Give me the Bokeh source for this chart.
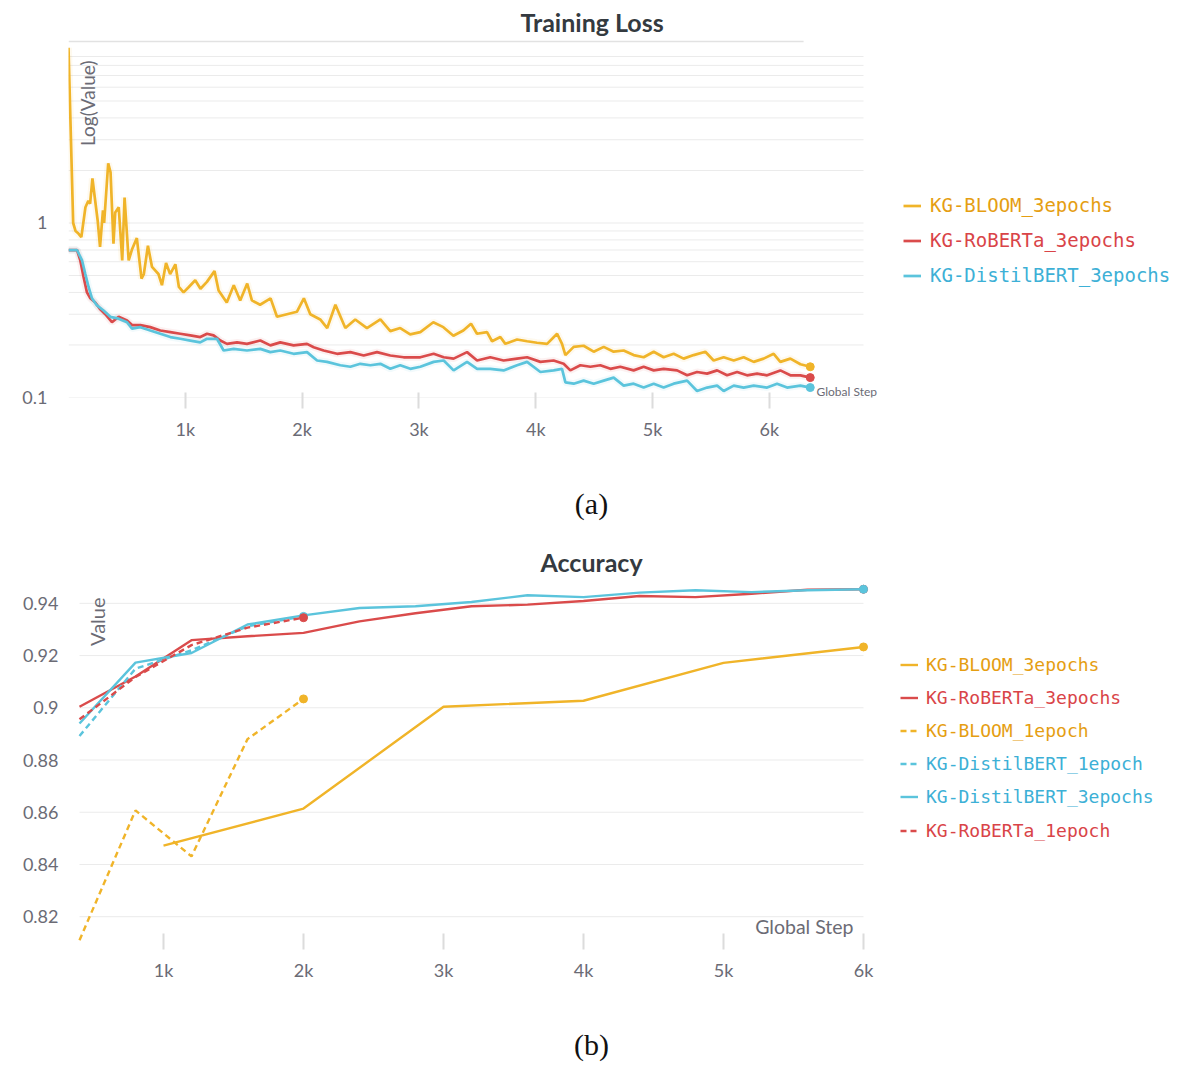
import math
from bokeh.plotting import figure
from bokeh.models import FixedTicker, Legend, LegendItem, Label, Range1d
from bokeh.layouts import column
from bokeh.embed import file_html
from bokeh.resources import INLINE

# ---------------- data: training loss ----------------
bloom_loss_steps = [0, 40, 60, 85, 110, 145, 170, 185, 205, 225, 250, 270, 295, 305, 340, 360, 385, 400,
                    430, 460, 480, 515, 545, 585, 625, 645, 680, 715, 770, 800, 835, 870, 915, 945, 985,
                    1030, 1085, 1130, 1185, 1250, 1285, 1355, 1415, 1470, 1530, 1570, 1640, 1730, 1785,
                    1870, 1955, 2015, 2070, 2155, 2215, 2285, 2370, 2455, 2555, 2670, 2755, 2840, 2925,
                    3012, 3123, 3209, 3295, 3380, 3446, 3497, 3583, 3626, 3697, 3740, 3840, 3926, 4011,
                    4097, 4183, 4225, 4254, 4325, 4410, 4496, 4582, 4667, 4753, 4838, 4924, 5010, 5095,
                    5181, 5266, 5352, 5452, 5523, 5609, 5695, 5780, 5866, 5951, 6037, 6094, 6180, 6266, 6350]
bloom_loss = [10.1, 1.0, 0.9, 0.87, 0.83, 1.23, 1.34, 1.29, 1.8, 1.4, 1.03, 0.73, 1.18, 1.0, 2.2, 1.95,
              0.76, 1.15, 1.23, 0.61, 1.4, 0.61, 0.71, 0.82, 0.48, 0.51, 0.74, 0.56, 0.51, 0.44, 0.59,
              0.51, 0.58, 0.43, 0.40, 0.43, 0.47, 0.42, 0.46, 0.53, 0.41, 0.35, 0.44, 0.36, 0.45, 0.36,
              0.34, 0.37, 0.29, 0.30, 0.31, 0.37, 0.30, 0.28, 0.25, 0.34, 0.25, 0.28, 0.25, 0.28, 0.24,
              0.25, 0.23, 0.237, 0.27, 0.253, 0.226, 0.242, 0.265, 0.232, 0.237, 0.21, 0.222, 0.203,
              0.215, 0.21, 0.206, 0.203, 0.232, 0.203, 0.175, 0.195, 0.198, 0.183, 0.195, 0.183, 0.186,
              0.175, 0.17, 0.183, 0.17, 0.178, 0.167, 0.175, 0.183, 0.163, 0.17, 0.163, 0.17, 0.16,
              0.167, 0.178, 0.16, 0.167, 0.155, 0.15]

roberta_loss_steps = [0, 73, 101, 129, 158, 187, 229, 272, 315, 372, 429, 501, 544, 615, 700, 786, 872,
                      957, 1043, 1128, 1186, 1242, 1300, 1357, 1443, 1528, 1642, 1728, 1813, 1927, 2042,
                      2099, 2184, 2299, 2413, 2527, 2641, 2755, 2869, 3012, 3126, 3212, 3297, 3412, 3498,
                      3611, 3725, 3840, 3926, 4040, 4153, 4239, 4296, 4382, 4468, 4553, 4639, 4724, 4838,
                      4924, 5010, 5095, 5210, 5296, 5381, 5467, 5553, 5638, 5724, 5809, 5895, 5981, 6094,
                      6180, 6266, 6350]
roberta_loss = [0.70, 0.70, 0.61, 0.49, 0.40, 0.37, 0.35, 0.32, 0.30, 0.27, 0.29, 0.276, 0.26, 0.26,
                0.253, 0.242, 0.237, 0.232, 0.227, 0.222, 0.232, 0.227, 0.212, 0.203, 0.207, 0.203,
                0.212, 0.199, 0.207, 0.199, 0.203, 0.194, 0.186, 0.178, 0.182, 0.174, 0.182, 0.174,
                0.17, 0.17, 0.178, 0.17, 0.167, 0.182, 0.163, 0.17, 0.163, 0.167, 0.17, 0.16, 0.163,
                0.156, 0.143, 0.153, 0.15, 0.153, 0.146, 0.15, 0.143, 0.15, 0.143, 0.146, 0.143, 0.134,
                0.14, 0.137, 0.143, 0.134, 0.14, 0.134, 0.137, 0.134, 0.143, 0.134, 0.134, 0.13]

distil_loss_steps = [0, 73, 116, 144, 172, 201, 244, 300, 358, 429, 501, 544, 615, 700, 786, 872, 957,
                     1043, 1128, 1186, 1271, 1328, 1414, 1528, 1642, 1728, 1813, 1927, 2042, 2128, 2213,
                     2327, 2413, 2498, 2584, 2670, 2755, 2840, 2926, 3012, 3126, 3212, 3297, 3412, 3498,
                     3611, 3725, 3840, 3926, 4040, 4153, 4225, 4254, 4325, 4410, 4496, 4582, 4667, 4753,
                     4838, 4924, 5010, 5095, 5181, 5296, 5381, 5467, 5553, 5609, 5695, 5780, 5866, 5981,
                     6066, 6152, 6266, 6350]
distil_loss = [0.70, 0.70, 0.61, 0.51, 0.43, 0.37, 0.337, 0.315, 0.29, 0.283, 0.27, 0.248, 0.253,
               0.242, 0.232, 0.222, 0.217, 0.212, 0.207, 0.217, 0.217, 0.186, 0.19, 0.186, 0.19, 0.182,
               0.186, 0.178, 0.182, 0.163, 0.16, 0.153, 0.15, 0.156, 0.153, 0.156, 0.146, 0.153, 0.146,
               0.15, 0.16, 0.163, 0.143, 0.16, 0.146, 0.146, 0.143, 0.153, 0.16, 0.14, 0.143, 0.146,
               0.122, 0.12, 0.125, 0.12, 0.125, 0.13, 0.117, 0.12, 0.114, 0.12, 0.114, 0.12, 0.125,
               0.109, 0.114, 0.117, 0.109, 0.117, 0.114, 0.117, 0.114, 0.12, 0.114, 0.117, 0.114]

# ---------------- data: accuracy ----------------
acc_steps = [400, 800, 1200, 1600, 2000, 2400, 2800, 3200, 3600, 4000, 4400, 4800, 5200, 5600, 6000]
acc_steps_1ep = [400, 800, 1200, 1600, 2000]
bloom3_steps = [1000, 2000, 3000, 4000, 5000, 6000]
bloom3_acc = [0.8472, 0.8614, 0.9004, 0.9027, 0.9172, 0.9233]
roberta3_acc = [0.9004, 0.9120, 0.9259, 0.9274, 0.9287, 0.9331, 0.9362, 0.9389, 0.9395, 0.9409,
                0.9428, 0.9424, 0.9437, 0.9452, 0.9454]
bloom1_acc = [0.811, 0.8607, 0.8431, 0.888, 0.9034]
distil1_acc = [0.8892, 0.915, 0.922, 0.9312, 0.935]
distil3_acc = [0.894, 0.9173, 0.921, 0.9319, 0.9354, 0.9382, 0.9389, 0.9405, 0.9431, 0.9424, 0.9441,
               0.945, 0.9443, 0.945, 0.9454]
roberta1_acc = [0.8956, 0.9118, 0.924, 0.9307, 0.9345]

x_ticks = [1000, 2000, 3000, 4000, 5000, 6000]
x_tick_labels = ["1k", "2k", "3k", "4k", "5k", "6k"]
loss_major = [0.1, 1]
loss_major_labels = ["0.1", "1"]
loss_minor = [0.2, 0.3, 0.4, 0.5, 0.6, 0.7, 0.8, 0.9, 2, 3, 4, 5, 6, 7, 8, 9]
acc_ticks = [0.82, 0.84, 0.86, 0.88, 0.90, 0.92, 0.94]
acc_tick_labels = ["0.82", "0.84", "0.86", "0.88", "0.9", "0.92", "0.94"]

# axis extents (steps) of the two panels
loss_x_start, loss_x_end = 0, 6806
acc_x_start, acc_x_end = 400, 6000

FONT = "Lato"
MONO = "DejaVu Sans Mono"
SERIF = "Liberation Serif"
AX = "#6b6b75"
GRID = "#ebebeb"
TICK = "#dcdcdc"
YEL, RED, BLU = "#F0B429", "#DA4B4B", "#5BC4DC"
YEL_T, RED_T, BLU_T = "#E59E12", "#D94448", "#3DB0D6"

FRAME_W = 1105
BORDER_L = 68
PAGE_CX = 591


def style_axes(p, xt, yt, y_overrides, standoff):
    p.xaxis.ticker = xt
    p.xgrid.grid_line_color = None
    p.ygrid.grid_line_color = None
    p.xaxis.major_label_overrides = dict(zip(x_ticks, x_tick_labels))
    p.xaxis.axis_line_color = None
    p.xaxis.major_tick_line_color = TICK
    p.xaxis.major_tick_line_width = 2
    p.xaxis.minor_tick_line_color = None
    p.xaxis.major_label_text_font = FONT
    p.xaxis.major_label_text_font_size = "18px"
    p.xaxis.major_label_text_color = AX
    p.xaxis.major_label_standoff = 9

    p.yaxis.ticker = yt
    p.yaxis.major_label_overrides = y_overrides
    p.yaxis.axis_line_color = None
    p.yaxis.major_tick_line_color = None
    p.yaxis.minor_tick_line_color = None
    p.yaxis.major_label_text_font = FONT
    p.yaxis.major_label_text_font_size = "18px"
    p.yaxis.major_label_text_color = AX
    p.yaxis.major_label_standoff = standoff
    p.outline_line_color = None


def style_title(p, offset, standoff):
    p.title.align = "left"
    p.title.offset = offset
    p.title.text_font = FONT
    p.title.text_font_size = "25px"
    p.title.text_color = "#343a40"
    p.title.standoff = standoff


def add_legend(p, label, r, color, x, y, standoff, size):
    leg = Legend(items=[LegendItem(label=label, renderers=[r])], location=(x, y),
                 label_text_font=MONO, label_text_font_size=size,
                 label_text_color=color, label_standoff=standoff, glyph_width=18, glyph_height=25,
                 label_height=25, padding=0, margin=0, spacing=0, border_line_color=None,
                 background_fill_alpha=0)
    p.add_layout(leg)


def caption_fig(text, h, y):
    c = figure(frame_width=FRAME_W, frame_height=h, min_border_left=BORDER_L, min_border_right=0,
               min_border_top=0, min_border_bottom=0, x_axis_location=None, y_axis_location=None,
               x_range=Range1d(0, 1), y_range=Range1d(0, 1),
               output_backend="svg", toolbar_location=None)
    c.xgrid.visible = False
    c.ygrid.visible = False
    c.outline_line_color = None
    c.add_layout(Label(x=PAGE_CX - BORDER_L, y=y, x_units="screen", y_units="screen", text=text,
                       text_align="center", text_baseline="middle", text_font=SERIF,
                       text_font_size="30px", text_color="#111111"))
    return c


# ---------------- figure (a): training loss ----------------
px_per_step1 = 795 / (loss_x_end - loss_x_start)
p1 = figure(frame_width=FRAME_W, frame_height=358, min_border_left=BORDER_L, min_border_right=0,
            min_border_top=39, min_border_bottom=55, y_axis_type="log",
            x_range=Range1d(loss_x_start, loss_x_start + FRAME_W / px_per_step1),
            y_range=Range1d(0.1, 11.26),
            output_backend="svg", toolbar_location=None, title="Training Loss")
style_title(p1, 452, 6)
style_axes(p1, FixedTicker(ticks=x_ticks, minor_ticks=[]),
           FixedTicker(ticks=loss_major, minor_ticks=[]),
           dict(zip(loss_major, loss_major_labels)), 15)
p1.xaxis.major_tick_in = 5
p1.xaxis.major_tick_out = 11

loss_grid = loss_major + loss_minor
p1.segment(x0=[loss_x_start] * len(loss_grid), x1=[loss_x_end] * len(loss_grid),
           y0=loss_grid, y1=loss_grid, line_color=GRID, line_width=1)
# header separator line of the panel
p1.segment(x0=[loss_x_start], x1=[6293], y0=[10.97], y1=[10.97], line_color="#e2e2e2", line_width=1.5)

series1 = [("KG-BLOOM_3epochs", bloom_loss_steps, bloom_loss, YEL, YEL_T),
           ("KG-RoBERTa_3epochs", roberta_loss_steps, roberta_loss, RED, RED_T),
           ("KG-DistilBERT_3epochs", distil_loss_steps, distil_loss, BLU, BLU_T)]
for name, xs, ys, c, _ in series1:
    p1.line(xs, ys, line_color=c, line_width=7, line_alpha=0.08)
for i, (name, xs, ys, c, tc) in enumerate(series1):
    r = p1.line(xs, ys, line_color=c, line_width=2.7)
    p1.scatter([xs[-1]], [ys[-1]], size=8, color=c)
    add_legend(p1, name, r, tc, 835, 179.5 - 35 * i, 9, "19px")

p1.add_layout(Label(x=19, y=337, x_units="screen", y_units="screen", text="Log(Value)",
                    angle=math.pi / 2, text_align="right", text_baseline="middle",
                    text_font=FONT, text_font_size="19px", text_color=AX))
p1.add_layout(Label(x=748, y=6, x_units="screen", y_units="screen", text="Global Step",
                    text_align="left", text_baseline="middle",
                    text_font=FONT, text_font_size="12px", text_color=AX))

cap_a = caption_fig("(a)", 85, 34)

# ---------------- figure (b): accuracy ----------------
px_per_step2 = 0.14
acc_view_start = acc_x_start - 11 / px_per_step2
p2 = figure(frame_width=FRAME_W, frame_height=358, min_border_left=BORDER_L, min_border_right=0,
            min_border_top=46, min_border_bottom=52,
            x_range=Range1d(acc_view_start, acc_view_start + FRAME_W / px_per_step2),
            y_range=Range1d(0.8105, 0.9476),
            output_backend="svg", toolbar_location=None, title="Accuracy")
style_title(p2, 472, 13)
style_axes(p2, FixedTicker(ticks=x_ticks, minor_ticks=[]),
           FixedTicker(ticks=acc_ticks, minor_ticks=[]),
           dict(zip(acc_ticks, acc_tick_labels)), 4)
p2.xaxis.major_tick_in = 8
p2.xaxis.major_tick_out = 8
p2.segment(x0=[acc_x_start] * len(acc_ticks), x1=[acc_x_end] * len(acc_ticks),
           y0=acc_ticks, y1=acc_ticks, line_color=GRID, line_width=1)

series2 = [("KG-BLOOM_3epochs", bloom3_steps, bloom3_acc, YEL, YEL_T, "solid"),
           ("KG-RoBERTa_3epochs", acc_steps, roberta3_acc, RED, RED_T, "solid"),
           ("KG-BLOOM_1epoch", acc_steps_1ep, bloom1_acc, YEL, YEL_T, "6 4"),
           ("KG-DistilBERT_1epoch", acc_steps_1ep, distil1_acc, BLU, BLU_T, "6 4"),
           ("KG-DistilBERT_3epochs", acc_steps, distil3_acc, BLU, BLU_T, "solid"),
           ("KG-RoBERTa_1epoch", acc_steps_1ep, roberta1_acc, RED, RED_T, "6 4")]
for i, (name, xs, ys, c, tc, dash) in enumerate(series2):
    r = p2.line(xs, ys, line_color=c, line_width=2.4, line_dash=dash)
    p2.scatter([xs[-1]], [ys[-1]], size=8, color=c)
    add_legend(p2, name, r, tc, 832, 264.5 - 33.2 * i, 8, "18px")

p2.add_layout(Label(x=28, y=344, x_units="screen", y_units="screen", text="Value",
                    angle=math.pi / 2, text_align="right", text_baseline="middle",
                    text_font=FONT, text_font_size="20px", text_color=AX))
p2.add_layout(Label(x=785, y=15, x_units="screen", y_units="screen", text="Global Step",
                    text_align="right", text_baseline="middle",
                    text_font=FONT, text_font_size="19.5px", text_color=AX))

cap_b = caption_fig("(b)", 71, 20)

layout = column(p1, cap_a, p2, cap_b, spacing=0)
open("out.html", "w").write(file_html(layout, INLINE))
